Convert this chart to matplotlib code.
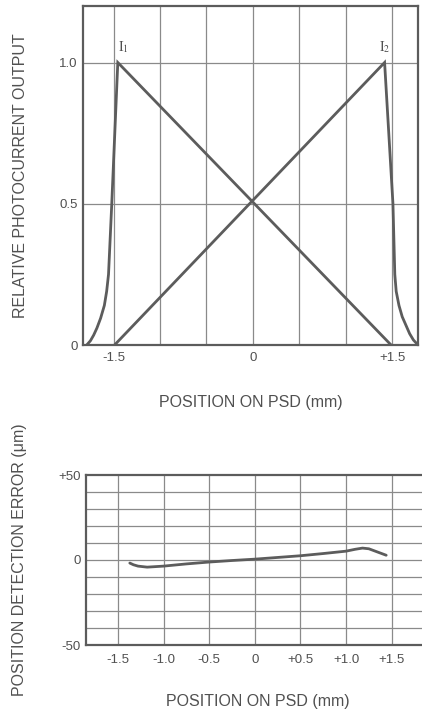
import matplotlib
matplotlib.use("Agg")
import matplotlib.pyplot as plt

plt.rcParams['font.family'] = ['Liberation Sans', 'DejaVu Sans']
plt.rcParams['mathtext.fontset'] = 'stix'

# Top panel: relative photocurrent outputs I1 and I2 vs position (mm)
i1_x = [-1.79, -1.75, -1.715, -1.68, -1.64, -1.60, -1.575, -1.555, -1.52, -1.455, 1.49]
i1_y = [0.0, 0.015, 0.035, 0.06, 0.095, 0.14, 0.19, 0.25, 0.5, 1.0, 0.0]
i2_x = [-1.49, 1.42, 1.51, 1.53, 1.545, 1.575, 1.61, 1.65, 1.69, 1.73, 1.78]
i2_y = [0.0, 1.0, 0.5, 0.25, 0.19, 0.14, 0.10, 0.07, 0.04, 0.018, 0.0]
top_xticks = [-1.5, 0, 1.5]
top_xticklabels = ['-1.5', '0', '+1.5']
top_yticks = [0, 0.5, 1.0]
top_yticklabels = ['0', '0.5', '1.0']
top_xgrid = [-1.5, -1.0, -0.5, 0, 0.5, 1.0, 1.5]
peak_labels = [r'$\mathrm{I}_{1}$', r'$\mathrm{I}_{2}$']

# Bottom panel: position detection error (um) vs position (mm)
err_x = [-1.37, -1.33, -1.28, -1.18, -1.0, -0.75, -0.5, -0.25, 0.0, 0.25, 0.5, 0.75, 1.0, 1.1, 1.18, 1.25, 1.33, 1.39, 1.44]
err_y = [-1.8, -2.8, -3.6, -4.2, -3.6, -2.3, -1.2, -0.3, 0.5, 1.5, 2.5, 3.8, 5.2, 6.3, 7.0, 6.6, 5.0, 3.8, 2.8]
bot_xticks = [-1.5, -1.0, -0.5, 0, 0.5, 1.0, 1.5]
bot_xticklabels = ['-1.5', '-1.0', '-0.5', '0', '+0.5', '+1.0', '+1.5']
bot_yticks = [-50, 0, 50]
bot_yticklabels = ['-50', '0', '+50']
bot_ygrid = [-40, -30, -20, -10, 0, 10, 20, 30, 40]

line_c = '#5c5c5c'
grid_c = '#8a8a8a'
text_c = '#505050'
tick_fs = 9.5
label_fs = 11.5

fig = plt.figure(figsize=(4.22, 7.10), dpi=100)

# ---- top axes
ax1 = fig.add_axes([83/422, (710-345)/710, (418-83)/422, (345-6)/710])
ax1.set_xlim(-1.83, 1.78)
ax1.set_ylim(0, 1.2)
for gx in top_xgrid:
    ax1.axvline(gx, color=grid_c, lw=0.9, zorder=1)
for gy in [0.5, 1.0]:
    ax1.axhline(gy, color=grid_c, lw=0.9, zorder=1)
ax1.plot(i1_x, i1_y, color=line_c, lw=2.0, solid_joinstyle='miter', zorder=3)
ax1.plot(i2_x, i2_y, color=line_c, lw=2.0, solid_joinstyle='miter', zorder=3)
ax1.text(i1_x[9] + 0.06, 1.055, peak_labels[0], fontsize=10, color=text_c,
         ha='center', va='center')
ax1.text(i2_x[1] + 0.0, 1.055, peak_labels[1], fontsize=10, color=text_c,
         ha='center', va='center')
ax1.set_xticks(top_xticks)
ax1.set_xticklabels(top_xticklabels)
ax1.set_yticks(top_yticks)
ax1.set_yticklabels(top_yticklabels)
ax1.tick_params(axis='x', length=0, labelsize=tick_fs, colors=text_c, pad=5)
ax1.tick_params(axis='y', length=0, labelsize=tick_fs, colors=text_c, pad=4)
for s in ax1.spines.values():
    s.set_color(line_c)
    s.set_linewidth(1.6)
ax1.set_xlabel('POSITION ON PSD (mm)', fontsize=label_fs, color=text_c, labelpad=22)
ax1.set_ylabel('RELATIVE PHOTOCURRENT OUTPUT', fontsize=label_fs, color=text_c, labelpad=22)

# ---- bottom axes
ax2 = fig.add_axes([86/422, (710-645)/710, (430-86)/422, (645-475)/710])
ax2.set_xlim(-1.85, 1.92)
ax2.set_ylim(-50, 50)
for gx in bot_xticks:
    ax2.axvline(gx, color=grid_c, lw=0.9, zorder=1)
for gy in bot_ygrid:
    ax2.axhline(gy, color=grid_c, lw=0.9, zorder=1)
ax2.plot(err_x, err_y, color=line_c, lw=2.0, solid_capstyle='round', zorder=3)
ax2.set_xticks(bot_xticks)
ax2.set_xticklabels(bot_xticklabels)
ax2.set_yticks(bot_yticks)
ax2.set_yticklabels(bot_yticklabels)
ax2.tick_params(axis='x', length=0, labelsize=tick_fs, colors=text_c, pad=6.5)
ax2.tick_params(axis='y', length=0, labelsize=tick_fs, colors=text_c, pad=4)
for s in ax2.spines.values():
    s.set_color(line_c)
    s.set_linewidth(1.6)
ax2.set_xlabel('POSITION ON PSD (mm)', fontsize=label_fs, color=text_c, labelpad=20)
ax2.set_ylabel('POSITION DETECTION ERROR (\u03bcm)', fontsize=label_fs, color=text_c, labelpad=22)

fig.savefig('out.png', dpi=100, facecolor='white')
